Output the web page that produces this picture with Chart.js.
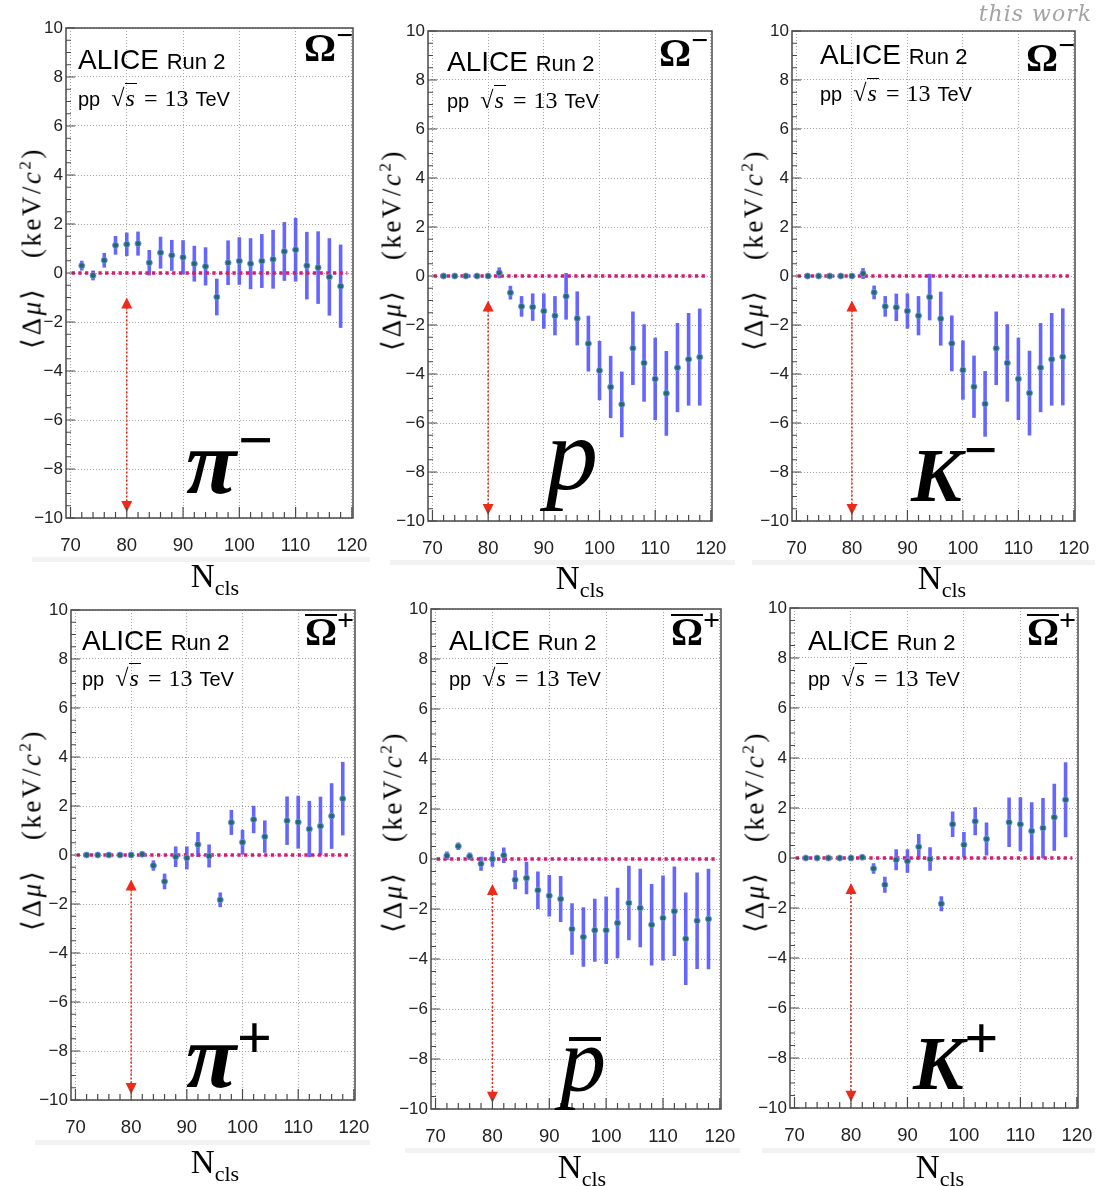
<!DOCTYPE html>
<html>
<head>
<meta charset="utf-8">
<script src="https://cdn.jsdelivr.net/npm/chart.js@4.4.0/dist/chart.umd.min.js"></script>
<style>
  body { margin: 0; background: #fff; width: 1099px; height: 1186px; position: relative; overflow: hidden;
         font-family: "Liberation Sans", Arial, sans-serif; }
  canvas { position: absolute; }
  .txt { position: absolute; white-space: nowrap; line-height: 1; color: #000; }
  .serif { font-family: "Liberation Serif", "Times New Roman", serif; }
  .big { font-family: "Liberation Serif", serif; font-style: italic; font-weight: bold; }
  .ytitle { position: absolute; white-space: nowrap; line-height: 1; font-family: "Liberation Serif", serif;
            font-size: 27px; letter-spacing: 2.5px; transform: translate(-50%, -50%) rotate(-90deg); }
  .xtitle { position: absolute; white-space: nowrap; line-height: 1; font-family: "Liberation Serif", serif;
            font-size: 33px; transform: translateX(-50%); }
  .band { position: absolute; height: 5px; background: #f2f2f2; }
</style>
</head>
<body>
<script>
// N_cls bin centres
const nclsBins = [72, 74, 76, 78, 80, 82, 84, 86, 88, 90, 92, 94, 96, 98, 100, 102, 104, 106, 108, 110, 112, 114, 116, 118];

// <Δμ> (keV/c^2) and errors, Omega- with pi-, p, K-
const piMinusVal = [0.3, -0.1, 0.52, 1.13, 1.17, 1.2, 0.42, 0.83, 0.72, 0.64, 0.38, 0.27, -0.98, 0.42, 0.49, 0.38, 0.49, 0.56, 0.88, 0.95, 0.3, 0.22, -0.16, -0.54];
const piMinusErr = [0.2, 0.2, 0.3, 0.38, 0.48, 0.49, 0.52, 0.65, 0.63, 0.7, 0.73, 0.78, 0.75, 0.91, 0.97, 1.04, 1.1, 1.2, 1.2, 1.3, 1.38, 1.48, 1.58, 1.7];
const protonVal = [0, 0, 0, 0, 0, 0.13, -0.68, -1.24, -1.27, -1.43, -1.62, -0.83, -1.73, -2.76, -3.86, -4.53, -5.24, -2.95, -3.55, -4.2, -4.79, -3.74, -3.4, -3.31];
const protonErr = [0.05, 0.05, 0.05, 0.05, 0.05, 0.22, 0.28, 0.42, 0.56, 0.72, 0.8, 0.95, 1.1, 1.14, 1.21, 1.27, 1.34, 1.5, 1.58, 1.68, 1.73, 1.82, 1.89, 1.98];
const kMinusVal = [0, 0, 0, 0, 0, 0.1, -0.67, -1.24, -1.28, -1.43, -1.62, -0.86, -1.74, -2.75, -3.84, -4.52, -5.22, -2.95, -3.55, -4.2, -4.78, -3.74, -3.4, -3.3];
const kMinusErr = [0.05, 0.05, 0.05, 0.05, 0.05, 0.22, 0.28, 0.42, 0.56, 0.72, 0.8, 0.95, 1.1, 1.14, 1.21, 1.27, 1.34, 1.5, 1.58, 1.68, 1.73, 1.82, 1.89, 1.98];

// anti-Omega+ with pi+, anti-p, K+  (null = no point)
const piPlusVal = [0, 0, 0, 0, 0, 0.03, -0.43, -1.08, -0.07, -0.12, 0.43, -0.04, -1.83, 1.33, 0.52, 1.45, 0.75, null, 1.4, 1.34, 1.06, 1.18, 1.59, 2.3];
const piPlusErr = [0.05, 0.05, 0.05, 0.05, 0.05, 0.06, 0.21, 0.32, 0.42, 0.47, 0.51, 0.47, 0.3, 0.51, 0.51, 0.56, 0.66, null, 0.99, 1.08, 1.15, 1.2, 1.34, 1.5];
const antiProtonVal = [0.13, 0.51, 0.11, -0.19, 0, 0.15, -0.83, -0.76, -1.25, -1.47, -1.6, -2.8, -3.12, -2.85, -2.85, -2.56, -1.76, -1.96, -2.63, -2.36, -2.09, -3.19, -2.47, -2.4];
const antiProtonErr = [0.17, 0.15, 0.15, 0.28, 0.31, 0.31, 0.38, 0.65, 0.75, 0.83, 0.92, 1.03, 1.19, 1.26, 1.35, 1.41, 1.49, 1.57, 1.63, 1.7, 1.79, 1.85, 1.93, 2.01];
const kPlusVal = [0, 0, 0, 0, 0, 0.03, -0.42, -1.07, -0.07, -0.12, 0.45, -0.04, -1.83, 1.35, 0.53, 1.47, 0.76, null, 1.43, 1.35, 1.08, 1.2, 1.63, 2.33];
const kPlusErr = [0.05, 0.05, 0.05, 0.05, 0.05, 0.06, 0.21, 0.32, 0.42, 0.47, 0.51, 0.47, 0.3, 0.51, 0.51, 0.56, 0.66, null, 0.99, 1.08, 1.15, 1.2, 1.34, 1.5];

// axis ranges and annotation values
const xRange = [69.2, 120.2];
const yRange = [-10, 10];
const zeroLineX = [70.2, 119.2];
const cutNcls = 80;
const arrowY = [-1.0, -9.75];

// panel placement: plot-frame corners on the page
const panels = [
  { val: piMinusVal, err: piMinusErr, area: [66, 28, 353, 518] },
  { val: protonVal, err: protonErr, area: [428, 31, 712, 521] },
  { val: kMinusVal, err: kMinusErr, area: [792, 31, 1075, 521] },
  { val: piPlusVal, err: piPlusErr, area: [71, 610, 355, 1100] },
  { val: antiProtonVal, err: antiProtonErr, area: [431, 609, 721, 1109] },
  { val: kPlusVal, err: kPlusErr, area: [790, 608, 1078, 1108] }
];

const PAD_L = 45, PAD_T = 12, PAD_R = 25, PAD_B = 45;

const errorBars = {
  id: 'errorBars',
  beforeDatasetsDraw(chart) {
    const { ctx, scales: { x, y } } = chart;
    ctx.save();
    ctx.strokeStyle = 'rgba(88,88,255,0.92)';
    ctx.lineWidth = 3.6;
    chart.data.datasets[0].data.forEach(p => {
      const px = x.getPixelForValue(p.x);
      ctx.beginPath();
      ctx.moveTo(px, y.getPixelForValue(p.y - p.err));
      ctx.lineTo(px, y.getPixelForValue(p.y + p.err));
      ctx.stroke();
    });
    ctx.restore();
  }
};

const rootFrame = {
  id: 'rootFrame',
  afterDatasetsDraw(chart) {
    const { ctx, chartArea: a, scales: { x, y } } = chart;
    ctx.save();
    // red cut arrow
    const ax = x.getPixelForValue(cutNcls);
    const yTop = y.getPixelForValue(arrowY[0]);
    const yBot = y.getPixelForValue(arrowY[1]);
    ctx.strokeStyle = '#ee2a1a';
    ctx.fillStyle = '#ee2a1a';
    ctx.lineWidth = 1.6;
    ctx.setLineDash([2, 2]);
    ctx.beginPath();
    ctx.moveTo(ax, yTop + 10);
    ctx.lineTo(ax, yBot - 10);
    ctx.stroke();
    ctx.setLineDash([]);
    ctx.beginPath();
    ctx.moveTo(ax, yTop); ctx.lineTo(ax - 5.5, yTop + 11); ctx.lineTo(ax + 5.5, yTop + 11); ctx.closePath();
    ctx.fill();
    ctx.beginPath();
    ctx.moveTo(ax, yBot); ctx.lineTo(ax - 5.5, yBot - 11); ctx.lineTo(ax + 5.5, yBot - 11); ctx.closePath();
    ctx.fill();

    // frame and inner ticks
    ctx.strokeStyle = '#4a4a4a';
    ctx.lineWidth = 1.5;
    ctx.strokeRect(a.left, a.top, a.right - a.left, a.bottom - a.top);
    ctx.lineWidth = 1.2;
    ctx.beginPath();
    for (let v = yRange[0]; v <= yRange[1]; v += 0.5) {
      const py = y.getPixelForValue(v);
      const len = (Math.abs(v % 2) < 1e-6) ? 9 : 5;
      ctx.moveTo(a.left, py); ctx.lineTo(a.left + len, py);
    }
    for (let v = 70; v <= 120; v += 2) {
      const px = x.getPixelForValue(v);
      const len = (v % 10 === 0) ? 11 : 6;
      ctx.moveTo(px, a.bottom); ctx.lineTo(px, a.bottom - len);
    }
    ctx.stroke();
    ctx.restore();
  }
};

function makePanel(p) {
  const [l, t, r, b] = p.area;
  const cv = document.createElement('canvas');
  cv.width = (r - l) + PAD_L + PAD_R;
  cv.height = (b - t) + PAD_T + PAD_B;
  cv.style.left = (l - PAD_L) + 'px';
  cv.style.top = (t - PAD_T) + 'px';
  document.body.appendChild(cv);

  const pts = [];
  nclsBins.forEach((n, i) => {
    if (p.val[i] !== null) pts.push({ x: n, y: p.val[i], err: p.err[i] });
  });

  new Chart(cv, {
    type: 'scatter',
    data: {
      datasets: [
        {
          data: pts, order: 0,
          pointRadius: 3, pointBackgroundColor: '#1f6d6b',
          pointBorderColor: 'rgba(120,140,255,0.9)', pointBorderWidth: 1
        },
        {
          type: 'line', order: 1,
          data: [{ x: zeroLineX[0], y: 0 }, { x: zeroLineX[1], y: 0 }],
          borderColor: '#d81b72', borderWidth: 3.5, borderDash: [3.3, 3.4],
          pointRadius: 0, fill: false
        }
      ]
    },
    options: {
      responsive: false,
      animation: false,
      devicePixelRatio: 1,
      layout: { padding: { left: 0, top: PAD_T, right: PAD_R, bottom: 0 } },
      plugins: { legend: { display: false }, tooltip: { enabled: false } },
      scales: {
        x: {
          type: 'linear', min: xRange[0], max: xRange[1],
          afterFit(s) { s.height = PAD_B; s.paddingLeft = 0; s.paddingRight = 0; },
          ticks: { stepSize: 10, includeBounds: false, padding: 17, maxRotation: 0, color: '#222',
                   font: { family: 'Liberation Sans', size: 18.5 } },
          grid: { drawTicks: false, color: '#a5a5a5', lineWidth: 1 },
          border: { display: false, dash: [1, 2] }
        },
        y: {
          type: 'linear', min: yRange[0], max: yRange[1],
          afterFit(s) { s.width = PAD_L; s.paddingTop = 0; s.paddingBottom = 0; },
          ticks: { stepSize: 2, padding: 3, color: '#222',
                   font: { family: 'Liberation Sans', size: 17 },
                   callback: v => String(v).replace('-', '\u2212') },
          grid: { drawTicks: false, color: '#a5a5a5', lineWidth: 1 },
          border: { display: false, dash: [1, 2] }
        }
      }
    },
    plugins: [errorBars, rootFrame]
  });
}

panels.forEach(makePanel);

// text overlays: [left, top] of ALICE line, pp line, Omega label, y title centre, x title centre
const headerPos = [
  { alice: [78, 46], pp: [78, 86], om: [304, 28], yt: [31, 248], xt: [215, 560] },
  { alice: [447, 48], pp: [447, 88], om: [659, 33], yt: [391, 250], xt: [580, 562] },
  { alice: [820, 41], pp: [820, 81], om: [1026, 38], yt: [753, 250], xt: [942, 562] },
  { alice: [82, 627], pp: [82, 666], om: [305, 612], yt: [31, 830], xt: [215, 1146] },
  { alice: [449, 627], pp: [449, 666], om: [671, 612], yt: [392, 832], xt: [582, 1151] },
  { alice: [808, 627], pp: [808, 666], om: [1027, 612], yt: [754, 832], xt: [940, 1151] }
];
const bands = [[32, 557, 338], [390, 560, 345], [752, 560, 343], [35, 1140, 335], [405, 1148, 335], [762, 1148, 333]];

function add(html) { document.body.insertAdjacentHTML('beforeend', html); }

headerPos.forEach((h, i) => {
  const anti = i >= 3;
  add(`<div class="txt" style="left:${h.alice[0]}px;top:${h.alice[1]}px;font-size:28px">ALICE <span style="font-size:22px">Run 2</span></div>`);
  add(`<div class="txt" style="left:${h.pp[0]}px;top:${h.pp[1]}px;font-size:20px">pp&nbsp;&nbsp;<span class="serif" style="font-size:24px;word-spacing:1px">&radic;<span style="font-style:italic;border-top:1px solid #000;padding:1px 2px 0 1px">s</span> = 13</span><span style="margin-left:7px">TeV</span></div>`);
  const om = anti
    ? `<span style="display:inline-block;line-height:0.72;border-top:2.5px solid #000;padding-top:2px">&Omega;</span><span style="font-size:30px;position:relative;top:-15px">+</span>`
    : `&Omega;<span style="font-size:30px;position:relative;top:-16px">&minus;</span>`;
  add(`<div class="txt serif" style="left:${h.om[0]}px;top:${h.om[1]}px;font-size:40px;font-weight:bold">${om}</div>`);
  add(`<div class="ytitle" style="left:${h.yt[0]}px;top:${h.yt[1]}px">&lang;&Delta;<i>&mu;</i>&rang;&nbsp;&nbsp;&nbsp;(keV/<i>c</i><sup style="font-size:17px">2</sup>)</div>`);
  add(`<div class="xtitle" style="left:${h.xt[0]}px;top:${h.xt[1]}px">N<sub style="font-size:22px">cls</sub></div>`);
  const bd = bands[i];
  add(`<div class="band" style="left:${bd[0]}px;top:${bd[1]}px;width:${bd[2]}px"></div>`);
});

// big particle labels
add(`<div class="txt big" style="left:186px;top:416px;font-size:92px">&pi;<span style="position:relative;top:-32px;font-size:62px">&minus;</span></div>`);
add(`<div class="txt big" style="left:546px;top:402px;font-size:104px;font-weight:normal">p</div>`);
add(`<div class="txt big" style="left:911px;top:437px;font-size:76px">K<span style="position:relative;top:-31px;font-size:60px">&minus;</span></div>`);
add(`<div class="txt big" style="left:186px;top:1010px;font-size:92px">&pi;<span style="position:relative;top:-29px;font-size:62px">+</span></div>`);
add(`<div class="txt big" style="left:560px;top:1014px;font-size:92px;font-weight:normal">p</div>`);
add(`<div style="position:absolute;left:569px;top:1037px;width:32px;height:4px;background:#000"></div>`);
add(`<div class="txt big" style="left:913px;top:1025px;font-size:76px">K<span style="position:relative;top:-31px;font-size:60px">+</span></div>`);

add(`<div class="txt" style="right:7px;top:3px;font-family:'DejaVu Serif',serif;font-style:italic;font-size:22px;color:#a3a3a3;letter-spacing:1px">this work</div>`);
</script>
</body>
</html>
